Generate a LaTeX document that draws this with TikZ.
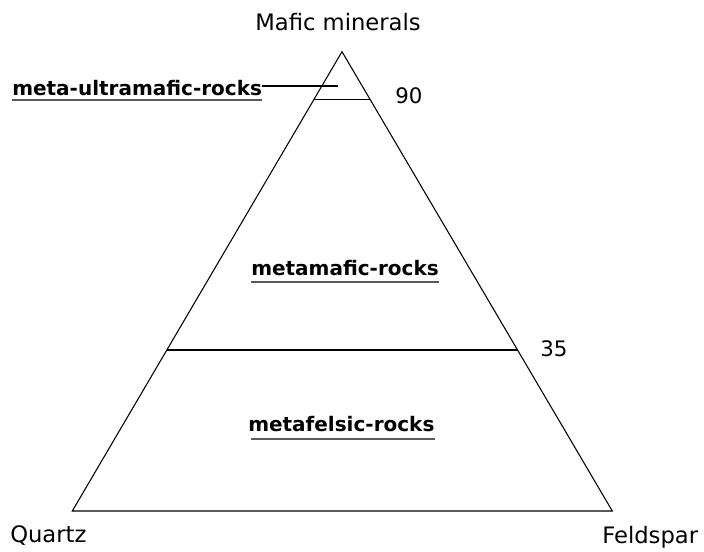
\documentclass[tikz,border=0pt]{standalone}
\usepackage{fontspec}
\setmainfont{DejaVu Sans}
\usetikzlibrary{calc}

\tikzset{
  corner/.style={anchor=base west, inner sep=0pt, font=\fontsize{17}{20}\selectfont},
  rocklabel/.style={anchor=base west, inner sep=0pt, font=\fontsize{15}{18}\selectfont\bfseries},
  pct/.style={anchor=base west, inner sep=0pt, font=\fontsize{16}{19}\selectfont},
  uline/.style={draw=gray!70!black, line width=1pt},
  edge/.style={draw=black, line width=0.8pt},
  leader/.style={draw=black, line width=1.2pt}
}

\begin{document}
\begin{tikzpicture}[x=0.75pt, y=-0.75pt]
    \useasboundingbox (0,0) rectangle (704,552);

    % Corners of the triangle
    \coordinate (apex) at (342,51.7);
    \coordinate (quartzpt) at (72.3,511);
    \coordinate (feldpt) at (612.3,511);

    % Outline and the two boundaries (90 and 35)
    \draw[edge] (apex) -- (feldpt) -- (quartzpt) -- cycle;
    \draw[edge] ($(apex)!0.104!(quartzpt)$) coordinate (l90) -- ($(apex)!0.104!(feldpt)$) coordinate (r90);
    \draw[edge] ($(apex)!0.6495!(quartzpt)$) coordinate (l35) -- ($(apex)!0.6495!(feldpt)$) coordinate (r35);

    % Corner labels
    \node[corner, anchor=base] (mafic) at (338,30.5) {Mafic minerals};
    \node[corner] (quartz) at (10,542) {Quartz};
    \node[corner] (feldspar) at (602,543) {Feldspar};

    % Boundary values
    \node[pct] (v90) at (395,104) {90};
    \node[pct] (v35) at (540,357) {35};

    % Rock fields
    \node[rocklabel] (ultra) at (12,96) {meta-ultramafic-rocks};
    \node[rocklabel] (mafrock) at (251,276) {metamafic-rocks};
    \node[rocklabel] (felsrock) at (248,432) {metafelsic-rocks\ };

    \draw[uline] ($(ultra.base west)+(0,4)$) -- ($(ultra.base east)+(0,4)$);
    \draw[uline] ($(mafrock.base west)+(0,6)$) -- ($(mafrock.base east)+(0,6)$);
    \draw[uline] ($(felsrock.base west)+(3,7)$) -- ($(felsrock.base east)+(0,7)$);

    % Leader into the top field
    \coordinate (ultratip) at (338,86);
    \draw[leader] (ultra.east |- ultratip) -- (ultratip);
\end{tikzpicture}
\end{document}
